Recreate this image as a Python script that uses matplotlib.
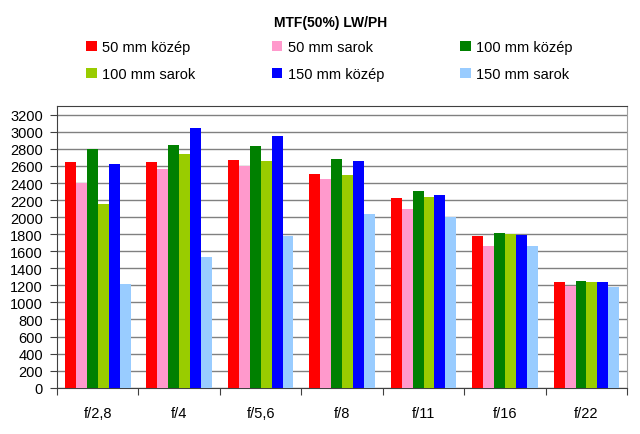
import matplotlib
matplotlib.use('Agg')
import matplotlib.pyplot as plt
import numpy as np

plt.rcParams['font.family'] = ['Liberation Sans', 'DejaVu Sans']

apertures = ['f/2,8', 'f/4', 'f/5,6', 'f/8', 'f/11', 'f/16', 'f/22']

# MTF50 values
mm50_kozep = [2650, 2650, 2675, 2510, 2230, 1775, 1240]
mm50_sarok = [2400, 2560, 2600, 2450, 2100, 1665, 1195]
mm100_kozep = [2800, 2850, 2840, 2680, 2310, 1815, 1250]
mm100_sarok = [2150, 2740, 2660, 2500, 2240, 1805, 1240]
mm150_kozep = [2620, 3040, 2950, 2655, 2265, 1795, 1240]
mm150_sarok = [1220, 1530, 1780, 2040, 2000, 1660, 1185]

series = [
    ('50 mm közép', mm50_kozep, '#ff0000'),
    ('50 mm sarok', mm50_sarok, '#ff99cc'),
    ('100 mm közép', mm100_kozep, '#008000'),
    ('100 mm sarok', mm100_sarok, '#99cc00'),
    ('150 mm közép', mm150_kozep, '#0000ff'),
    ('150 mm sarok', mm150_sarok, '#99ccff'),
]

fig = plt.figure(figsize=(6.4, 4.35), dpi=100)
ax = fig.add_axes([0.089, 0.1064, 0.891, 0.647])

x = np.arange(len(apertures))
w = 0.1345
bars = {}
for i, (name, vals, col) in enumerate(series):
    bars[name] = ax.bar(x + (i - 2.5) * w, vals, w, color=col, label=name,
                        zorder=3, linewidth=0)

ax.set_xlim(-0.5, len(apertures) - 0.5)
ax.set_ylim(0, 3300)
ax.set_yticks(np.arange(0, 3201, 200))
ax.yaxis.grid(True, color='#808080', linewidth=1, zorder=0)

# category labels between boundary ticks
ax.set_xticks(np.arange(-0.5, len(apertures), 1))
ax.set_xticklabels([])
ax.set_xticks(x, minor=True)
ax.set_xticklabels(apertures, minor=True, fontsize=10.5)
ax.tick_params(axis='x', which='minor', length=0, pad=13)
ax.tick_params(axis='x', which='major', length=5, color='#404040')
ax.tick_params(axis='y', length=5, pad=5, labelsize=10.5, color='#404040')

for s in ['left', 'bottom']:
    ax.spines[s].set_color('#404040')
ax.spines['top'].set_color('#404040')
ax.spines['right'].set_color('#a0a0a0')

fig.text(0.516, 0.948, 'MTF(50%) LW/PH', ha='center', va='center',
         fontsize=10, fontweight='bold')

order = ['50 mm közép', '100 mm sarok', '50 mm sarok', '150 mm közép',
         '100 mm közép', '150 mm sarok']
fig.legend([bars[n] for n in order], order, ncol=3, loc='upper left',
           bbox_to_anchor=(0.135, 0.905), frameon=False, fontsize=10.5,
           handlelength=0.7, handleheight=0.7, handletextpad=0.4,
           columnspacing=5.22, labelspacing=0.9, borderaxespad=0, borderpad=0)

fig.savefig('out.png', dpi=100)
